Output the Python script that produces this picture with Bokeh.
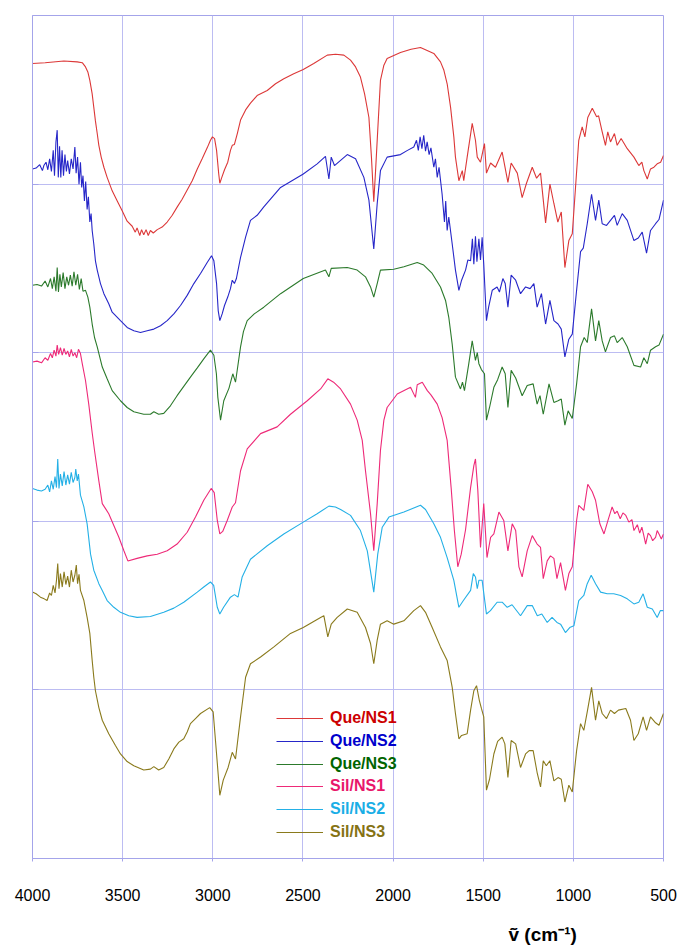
from bokeh.plotting import figure
from bokeh.models import Range1d, Legend, LegendItem, Title, FixedTicker, LinearAxis
from bokeh.embed import file_html
from bokeh.resources import INLINE

# FTIR spectra, stacked transmittance traces (arbitrary offset units)
WN_QUE_NS1 = [4000, 3930, 3826, 3752, 3724, 3706, 3693, 3682, 3669, 3660, 3651, 3641, 3632, 3619, 3604, 3586, 3558, 3530,
              3502, 3475, 3447, 3430, 3420, 3405, 3395, 3383, 3370, 3358, 3346, 3330, 3308, 3281, 3253, 3225, 3197, 3170,
              3142, 3114, 3086, 3059, 3031, 3013, 3002, 2990, 2979, 2967, 2961, 2950, 2935, 2917, 2902, 2892, 2880, 2864,
              2846, 2818, 2791, 2754, 2698, 2652, 2606, 2551, 2498, 2440, 2365, 2319, 2273, 2236, 2208, 2181, 2158, 2134,
              2120, 2107, 2097, 2085, 2070, 2051, 2033, 1959, 1900, 1848, 1774, 1737, 1718, 1700, 1681, 1663, 1654, 1635,
              1616, 1608, 1589, 1561, 1543, 1533, 1515, 1493, 1482, 1459, 1432, 1395, 1363, 1345, 1311, 1284, 1260, 1228,
              1204, 1182, 1154, 1130, 1108, 1086, 1067, 1047, 1025, 1006, 988, 970, 951, 936, 920, 895, 871, 860, 840, 822,
              809, 794, 772, 757, 735, 701, 664, 637, 620, 609, 590, 572, 553, 535, 516, 500]
T_QUE_NS1 = [94.3, 94.4, 94.6, 94.5, 94.4, 93.9, 93.3, 92.3, 90.7, 89.1, 87.5, 86.0, 84.6, 83.2, 82.0, 80.8, 79.2, 78.0,
             76.8, 75.6, 75.0, 74.3, 74.8, 73.9, 74.6, 74.0, 74.6, 73.9, 74.5, 74.2, 74.6, 74.9, 75.5, 76.3, 77.3, 78.2,
             79.3, 80.4, 81.8, 83.0, 84.3, 85.2, 85.6, 85.4, 84.0, 81.2, 80.1, 80.8, 81.7, 82.6, 84.0, 84.6, 84.7, 86.0,
             87.6, 88.8, 89.6, 90.5, 91.1, 91.9, 92.5, 93.1, 93.6, 94.3, 95.3, 95.4, 95.3, 94.7, 93.9, 92.7, 90.7, 87.9,
             83.2, 77.9, 81.6, 86.4, 92.3, 94.1, 94.9, 95.6, 96.0, 96.2, 95.5, 94.5, 93.5, 91.9, 89.1, 85.6, 83.2, 80.4,
             81.6, 80.4, 83.2, 87.2, 85.2, 83.2, 82.6, 84.8, 81.3, 82.5, 82.0, 83.8, 80.2, 82.5, 81.3, 78.4, 80.1, 82.0,
             80.7, 81.3, 75.4, 80.0, 77.7, 75.5, 76.7, 70.1, 73.3, 74.1, 79.6, 85.2, 86.8, 85.6, 87.9, 89.0, 88.0, 88.1,
             86.2, 84.6, 86.2, 85.0, 86.0, 84.6, 85.4, 84.2, 83.2, 82.2, 82.6, 81.6, 80.6, 81.8, 82.0, 82.4, 82.6, 83.4]

WN_QUE_NS2 = [4000, 3980, 3960, 3945, 3937, 3925, 3915, 3905, 3895, 3885, 3878, 3870, 3863, 3857, 3850, 3843, 3836, 3828,
              3820, 3812, 3805, 3795, 3785, 3775, 3765, 3758, 3750, 3742, 3734, 3727, 3720, 3712, 3705, 3697, 3690, 3682,
              3675, 3669, 3660, 3651, 3641, 3623, 3604, 3577, 3558, 3512, 3475, 3438, 3401, 3364, 3327, 3290, 3253, 3216,
              3179, 3142, 3105, 3068, 3031, 3007, 2994, 2979, 2970, 2961, 2948, 2935, 2917, 2902, 2892, 2880, 2869, 2846,
              2818, 2791, 2754, 2717, 2624, 2498, 2421, 2375, 2356, 2343, 2325, 2254, 2208, 2162, 2134, 2107, 2088, 2070,
              2033, 1959, 1920, 1885, 1870, 1860, 1850, 1840, 1830, 1820, 1811, 1800, 1790, 1774, 1765, 1755, 1745, 1728,
              1715, 1708, 1700, 1691, 1672, 1654, 1635, 1620, 1598, 1585, 1570, 1560, 1552, 1543, 1535, 1524, 1515, 1506,
              1497, 1482, 1470, 1450, 1423, 1410, 1391, 1378, 1363, 1345, 1320, 1293, 1265, 1240, 1219, 1201, 1177, 1154,
              1130, 1108, 1085, 1067, 1047, 1025, 1006, 982, 960, 945, 923, 899, 877, 859, 840, 816, 794, 772, 757, 729,
              701, 664, 640, 618, 594, 572, 544, 525, 500]
T_QUE_NS2 = [81.8, 81.9, 82.3, 81.6, 82.2, 82.6, 81.7, 83.0, 81.5, 84.0, 81.0, 85.0, 86.4, 80.8, 84.5, 80.8, 84.0, 81.0,
             83.5, 81.5, 82.8, 81.2, 83.0, 81.8, 84.4, 81.3, 83.2, 80.0, 82.6, 79.6, 81.0, 78.0, 80.3, 77.0, 78.5, 75.5,
             76.5, 74.5, 72.9, 70.9, 69.8, 68.2, 67.0, 65.8, 64.8, 63.8, 63.0, 62.6, 62.4, 62.6, 62.8, 63.2, 63.8, 64.6,
             65.6, 66.8, 68.2, 69.4, 70.7, 71.5, 70.9, 68.2, 65.0, 63.8, 64.6, 65.6, 66.6, 67.6, 68.6, 68.2, 68.8, 71.3,
             73.7, 75.7, 76.3, 77.3, 79.6, 81.2, 82.4, 83.3, 80.6, 83.2, 82.2, 83.5, 83.0, 80.8, 78.1, 72.3, 77.7, 81.6,
             83.2, 83.5, 84.0, 84.4, 85.2, 84.0, 85.6, 84.2, 85.8, 83.9, 85.0, 83.5, 84.3, 82.0, 83.0, 80.8, 82.0, 78.8,
             75.5, 78.0, 74.5, 76.1, 72.9, 69.8, 67.4, 68.6, 69.8, 71.0, 70.9, 73.5, 70.5, 73.8, 70.8, 73.5, 71.0, 73.7,
             70.5, 63.8, 65.4, 67.4, 67.8, 67.2, 68.8, 68.2, 65.4, 69.2, 68.6, 67.0, 67.8, 67.6, 68.2, 65.4, 67.0, 63.4,
             66.2, 63.8, 63.4, 62.8, 59.5, 61.6, 62.2, 67.4, 72.0, 72.4, 75.3, 78.8, 75.7, 78.1, 75.3, 75.1, 75.7, 76.3,
             75.1, 76.5, 75.7, 73.3, 73.6, 74.3, 71.8, 74.5, 75.3, 75.8, 78.1]

WN_QUE_NS3 = [4000, 3975, 3950, 3930, 3915, 3900, 3890, 3880, 3870, 3863, 3856, 3848, 3840, 3830, 3820, 3810, 3800, 3790,
              3780, 3770, 3760, 3750, 3740, 3730, 3720, 3706, 3693, 3682, 3669, 3656, 3641, 3613, 3586, 3558, 3512, 3475,
              3438, 3383, 3346, 3327, 3300, 3272, 3235, 3198, 3161, 3124, 3086, 3049, 3013, 2994, 2980, 2972, 2957, 2939,
              2910, 2889, 2874, 2846, 2830, 2809, 2770, 2717, 2624, 2498, 2375, 2356, 2343, 2254, 2199, 2153, 2125, 2107,
              2088, 2070, 1996, 1940, 1866, 1830, 1783, 1737, 1709, 1691, 1672, 1654, 1626, 1615, 1604, 1580, 1561, 1543,
              1533, 1524, 1510, 1493, 1482, 1465, 1441, 1420, 1395, 1378, 1363, 1345, 1320, 1284, 1256, 1223, 1201, 1185,
              1167, 1135, 1108, 1085, 1067, 1047, 1029, 1006, 982, 960, 940, 923, 899, 877, 859, 840, 822, 794, 772, 757,
              729, 701, 664, 627, 609, 590, 572, 544, 525, 500]
T_QUE_NS3 = [68.0, 68.1, 67.9, 68.5, 67.8, 68.8, 67.6, 69.0, 67.3, 70.1, 67.2, 69.3, 67.8, 69.5, 67.6, 69.0, 68.0, 69.2,
             67.9, 69.6, 68.0, 69.3, 67.5, 68.8, 67.3, 67.4, 66.6, 65.4, 63.4, 61.8, 60.7, 58.3, 56.9, 55.5, 54.3, 53.5,
             53.0, 52.7, 52.7, 53.0, 52.7, 52.8, 53.7, 54.9, 56.0, 57.1, 58.2, 59.3, 60.3, 59.7, 57.5, 54.7, 52.0, 54.3,
             55.8, 57.5, 56.5, 60.7, 62.5, 63.8, 64.6, 65.4, 67.0, 68.8, 69.8, 69.0, 70.0, 70.1, 69.8, 69.0, 67.8, 66.6,
             68.2, 69.8, 69.9, 70.2, 70.7, 70.4, 69.4, 67.8, 66.2, 64.2, 61.0, 57.1, 55.7, 56.5, 55.5, 58.7, 61.4, 59.1,
             60.0, 58.7, 58.0, 57.5, 52.0, 53.5, 55.9, 56.8, 58.3, 57.5, 53.5, 57.9, 57.0, 54.9, 56.1, 56.3, 53.9, 54.9,
             52.7, 56.3, 54.1, 54.3, 54.5, 51.4, 53.1, 52.2, 56.3, 60.7, 61.8, 61.2, 65.2, 61.4, 63.8, 61.4, 60.1, 61.8,
             62.0, 61.2, 61.8, 60.7, 58.5, 58.3, 59.4, 58.7, 60.3, 60.7, 60.9, 62.2]

WN_SIL_NS1 = [4000, 3975, 3950, 3930, 3915, 3900, 3890, 3880, 3870, 3863, 3855, 3845, 3835, 3825, 3815, 3805, 3795, 3785,
              3775, 3765, 3755, 3745, 3734, 3724, 3706, 3688, 3669, 3656, 3632, 3613, 3595, 3577, 3549, 3521, 3493, 3471,
              3420, 3364, 3308, 3253, 3198, 3142, 3096, 3050, 3009, 2992, 2975, 2961, 2945, 2920, 2892, 2874, 2846, 2809,
              2735, 2643, 2569, 2476, 2402, 2362, 2330, 2291, 2236, 2199, 2171, 2153, 2125, 2107, 2088, 2070, 2051, 2033,
              1977, 1903, 1876, 1866, 1838, 1810, 1790, 1755, 1728, 1700, 1678, 1660, 1641, 1622, 1598, 1570, 1552, 1543,
              1530, 1515, 1497, 1479, 1459, 1441, 1413, 1386, 1363, 1339, 1320, 1302, 1284, 1256, 1228, 1201, 1182, 1167,
              1145, 1127, 1108, 1091, 1071, 1044, 1025, 1006, 982, 970, 942, 920, 895, 877, 853, 830, 808, 785, 770, 757,
              740, 725, 709, 692, 675, 664, 645, 632, 620, 610, 599, 585, 572, 560, 544, 535, 525, 512, 500]
T_SIL_NS1 = [58.9, 59.0, 58.8, 59.4, 59.1, 59.9, 59.4, 60.3, 59.6, 60.9, 59.8, 60.6, 59.7, 60.5, 59.8, 60.2, 59.5, 60.4,
             59.6, 60.0, 59.4, 60.4, 59.9, 58.7, 56.7, 53.9, 50.5, 48.4, 44.8, 42.1, 41.5, 40.9, 39.5, 38.1, 36.5, 35.3,
             35.6, 35.9, 36.1, 36.5, 37.3, 38.7, 40.5, 42.5, 43.9, 43.4, 40.1, 38.5, 38.8, 40.1, 41.7, 42.2, 46.0, 48.6,
             50.4, 51.2, 52.7, 54.3, 55.7, 56.9, 56.5, 55.7, 53.9, 52.0, 49.6, 46.0, 40.9, 36.5, 42.1, 48.4, 52.0, 53.5,
             55.1, 55.9, 54.7, 56.2, 56.5, 55.5, 55.0, 53.9, 52.3, 49.6, 44.0, 38.9, 34.6, 36.1, 39.0, 44.0, 46.6, 47.4,
             43.7, 36.9, 42.1, 35.7, 38.1, 38.5, 41.1, 40.1, 36.5, 39.7, 38.9, 34.6, 33.4, 36.5, 38.3, 37.3, 36.9, 33.2,
             35.3, 35.9, 35.6, 33.2, 35.1, 31.8, 33.8, 34.6, 40.1, 41.9, 41.3, 44.4, 43.5, 42.5, 39.7, 38.5, 40.1, 41.7,
             40.9, 41.2, 40.3, 41.0, 40.7, 39.9, 40.2, 38.9, 39.6, 38.6, 39.3, 38.4, 37.3, 38.6, 38.3, 37.7, 38.1, 38.9,
             38.5, 37.9, 38.5]

WN_SIL_NS2 = [4000, 3975, 3950, 3930, 3915, 3905, 3895, 3885, 3875, 3867, 3860, 3853, 3845, 3835, 3825, 3815, 3805, 3795,
              3785, 3775, 3765, 3760, 3752, 3745, 3734, 3715, 3697, 3678, 3660, 3632, 3613, 3586, 3549, 3512, 3466, 3420,
              3346, 3272, 3216, 3161, 3086, 3050, 3013, 2995, 2975, 2961, 2940, 2902, 2880, 2860, 2837, 2791, 2698, 2606,
              2498, 2421, 2356, 2320, 2291, 2236, 2181, 2143, 2107, 2085, 2060, 2023, 1940, 1848, 1820, 1774, 1737, 1700,
              1663, 1635, 1610, 1570, 1555, 1543, 1533, 1524, 1506, 1482, 1460, 1423, 1395, 1367, 1340, 1293, 1256, 1228,
              1200, 1175, 1145, 1118, 1091, 1071, 1044, 1020, 997, 970, 942, 923, 901, 877, 849, 812, 776, 738, 701, 664,
              637, 613, 590, 562, 535, 518, 500]
T_SIL_NS2 = [43.9, 43.7, 43.6, 43.8, 44.3, 43.5, 44.8, 43.8, 45.3, 44.0, 47.4, 43.9, 45.6, 44.2, 45.9, 44.3, 45.5, 44.4,
             45.8, 44.6, 45.2, 46.2, 44.8, 45.6, 43.1, 41.7, 39.7, 36.1, 34.2, 32.6, 31.8, 30.6, 29.8, 29.2, 28.8, 28.6,
             28.7, 29.2, 29.7, 30.4, 31.6, 32.2, 32.8, 32.4, 29.8, 29.0, 29.8, 31.0, 31.3, 31.0, 33.4, 35.5, 37.1, 38.5,
             39.9, 40.9, 41.8, 41.7, 41.4, 40.7, 38.9, 36.5, 31.6, 36.1, 39.3, 40.5, 41.1, 41.9, 41.4, 39.7, 38.1, 35.7,
             33.0, 29.8, 30.6, 31.8, 33.8, 33.4, 32.0, 33.0, 33.0, 29.0, 29.4, 30.4, 30.4, 29.8, 30.1, 28.8, 30.0, 30.0,
             28.8, 29.0, 28.0, 28.6, 28.0, 27.8, 26.8, 27.4, 27.6, 30.6, 31.2, 32.6, 33.6, 32.6, 31.6, 31.4, 31.4, 31.2,
             30.8, 30.2, 30.4, 31.4, 29.8, 29.6, 28.6, 29.4, 29.4]

WN_SIL_NS3 = [4000, 3980, 3956, 3935, 3919, 3905, 3895, 3885, 3875, 3867, 3860, 3853, 3845, 3835, 3825, 3815, 3805, 3795,
              3785, 3775, 3765, 3757, 3750, 3742, 3734, 3715, 3697, 3682, 3669, 3660, 3651, 3632, 3613, 3577, 3540, 3512,
              3475, 3438, 3383, 3346, 3327, 3300, 3272, 3244, 3216, 3188, 3161, 3142, 3124, 3096, 3068, 3017, 2998, 2979,
              2961, 2942, 2915, 2892, 2874, 2846, 2818, 2791, 2735, 2661, 2569, 2498, 2402, 2384, 2362, 2343, 2310, 2254,
              2199, 2153, 2125, 2107, 2088, 2070, 2033, 1996, 1940, 1885, 1848, 1820, 1783, 1737, 1700, 1672, 1654, 1635,
              1620, 1589, 1570, 1552, 1537, 1522, 1510, 1497, 1482, 1465, 1441, 1420, 1395, 1380, 1363, 1345, 1320, 1293,
              1265, 1245, 1223, 1201, 1182, 1167, 1150, 1130, 1108, 1085, 1067, 1047, 1025, 1006, 982, 960, 942, 923, 899,
              877, 859, 840, 816, 794, 772, 750, 709, 683, 664, 640, 613, 594, 572, 544, 525, 500]
T_SIL_NS3 = [31.6, 31.4, 31.0, 30.8, 30.6, 31.5, 31.2, 32.4, 31.5, 33.0, 35.0, 32.0, 33.8, 32.2, 34.0, 32.5, 33.5, 32.2,
             34.2, 32.8, 33.6, 34.8, 32.6, 33.7, 31.8, 30.6, 28.6, 26.7, 23.5, 21.5, 19.9, 17.9, 16.4, 14.8, 13.4, 12.4,
             11.5, 11.0, 10.5, 10.6, 10.9, 10.5, 10.8, 11.8, 13.0, 13.8, 14.2, 15.0, 16.0, 16.6, 17.2, 17.9, 17.4, 12.4,
             7.5, 9.3, 10.8, 12.6, 11.8, 16.8, 21.5, 23.1, 23.9, 25.1, 26.7, 27.4, 28.6, 28.8, 26.3, 27.8, 28.6, 29.6,
             29.2, 27.4, 25.5, 23.1, 25.9, 27.8, 28.2, 27.8, 28.2, 29.4, 30.0, 29.2, 27.4, 25.1, 23.5, 20.3, 17.2, 14.2,
             14.6, 14.8, 17.6, 19.9, 20.5, 18.8, 17.8, 16.8, 8.1, 9.4, 12.4, 13.9, 14.4, 13.6, 9.6, 14.0, 13.6, 10.8,
             12.4, 12.8, 12.8, 10.2, 8.5, 11.6, 11.0, 11.6, 9.2, 9.6, 9.4, 6.7, 8.7, 7.9, 12.8, 16.0, 15.2, 17.4, 20.3,
             16.4, 18.7, 17.2, 16.6, 17.6, 17.2, 17.6, 17.8, 16.4, 14.0, 14.8, 16.8, 15.2, 16.8, 16.1, 15.8, 17.2]

SERIES = [
    ("Que/NS1", WN_QUE_NS1, T_QUE_NS1, "#dc3838", "#cc0000"),
    ("Que/NS2", WN_QUE_NS2, T_QUE_NS2, "#2626c8", "#0000cc"),
    ("Que/NS3", WN_QUE_NS3, T_QUE_NS3, "#2c7a2c", "#006400"),
    ("Sil/NS1", WN_SIL_NS1, T_SIL_NS1, "#ee2a78", "#e8176a"),
    ("Sil/NS2", WN_SIL_NS2, T_SIL_NS2, "#24b0e6", "#1aaee6"),
    ("Sil/NS3", WN_SIL_NS3, T_SIL_NS3, "#8a7a1c", "#857214"),
]

X_TICKS = [4000, 3500, 3000, 2500, 2000, 1500, 1000, 500]
Y_GRID = [20, 40, 60, 80]

FONT = "Liberation Sans"
GRID = "#bcbcf2"
FRAME = "#a4a4ea"

p = figure(width=681, height=950, output_backend="svg", toolbar_location=None,
           x_range=Range1d(4000, 500), y_range=Range1d(0, 100),
           min_border_left=32, min_border_right=18, min_border_top=15, min_border_bottom=92,
           y_axis_location=None)
p.background_fill_color = "white"
p.border_fill_color = "white"
p.outline_line_color = FRAME
p.outline_line_width = 1

# bottom axis: wavenumber ticks; a blank axis label keeps a gap above the title
xa = p.xaxis[0]
xa.ticker = FixedTicker(ticks=X_TICKS)
xa.axis_line_color = FRAME
xa.major_tick_line_color = FRAME
xa.major_tick_out = 3
xa.major_tick_in = 0
xa.minor_tick_line_color = None
xa.major_label_standoff = 27
xa.major_label_text_font = FONT
xa.major_label_text_font_size = "16px"
xa.major_label_text_color = "black"
xa.axis_label = "\u00a0"
xa.axis_label_text_font_size = "12px"
xa.axis_label_standoff = 1

# left axis: unlabeled ticks at the offset levels
ya = LinearAxis(ticker=FixedTicker(ticks=Y_GRID), axis_line_color=FRAME, major_tick_line_color=FRAME,
                major_tick_in=6, major_tick_out=0, minor_tick_line_color=None,
                major_label_text_font_size="0px", major_label_text_alpha=0)
p.add_layout(ya, "left")

p.xgrid.ticker = FixedTicker(ticks=X_TICKS)
p.xgrid.grid_line_color = GRID
p.ygrid.ticker = FixedTicker(ticks=Y_GRID)
p.ygrid.grid_line_color = GRID

renderers = []
for name, wn, t, line_color, _ in SERIES:
    r = p.line(wn, t, line_color=line_color, line_width=1.1)
    renderers.append(r)

# one legend entry per box so every label keeps its own colour
for k, ((name, _, _, _, text_color), r) in enumerate(zip(SERIES, renderers)):
    center_from_bottom = (858 - (718 + 22.8 * k))
    leg = Legend(items=[LegendItem(label=name, renderers=[r])],
                 location=(244, center_from_bottom - 10),
                 orientation="vertical", padding=0, margin=0, spacing=0,
                 glyph_width=47, glyph_height=20, label_height=20, label_standoff=7,
                 label_text_font=FONT, label_text_font_size="16px", label_text_font_style="bold",
                 label_text_color=text_color,
                 border_line_color=None, background_fill_alpha=0)
    p.add_layout(leg, "center")

# wavenumber title, right of centre under the axis
x_title = Title(text="ṽ (cm⁻¹)", align="left", offset=476, standoff=0,
                text_font=FONT, text_font_size="19px", text_font_style="bold", text_color="black")
p.add_layout(x_title, "below")

open("out.html", "w").write(file_html(p, INLINE))
